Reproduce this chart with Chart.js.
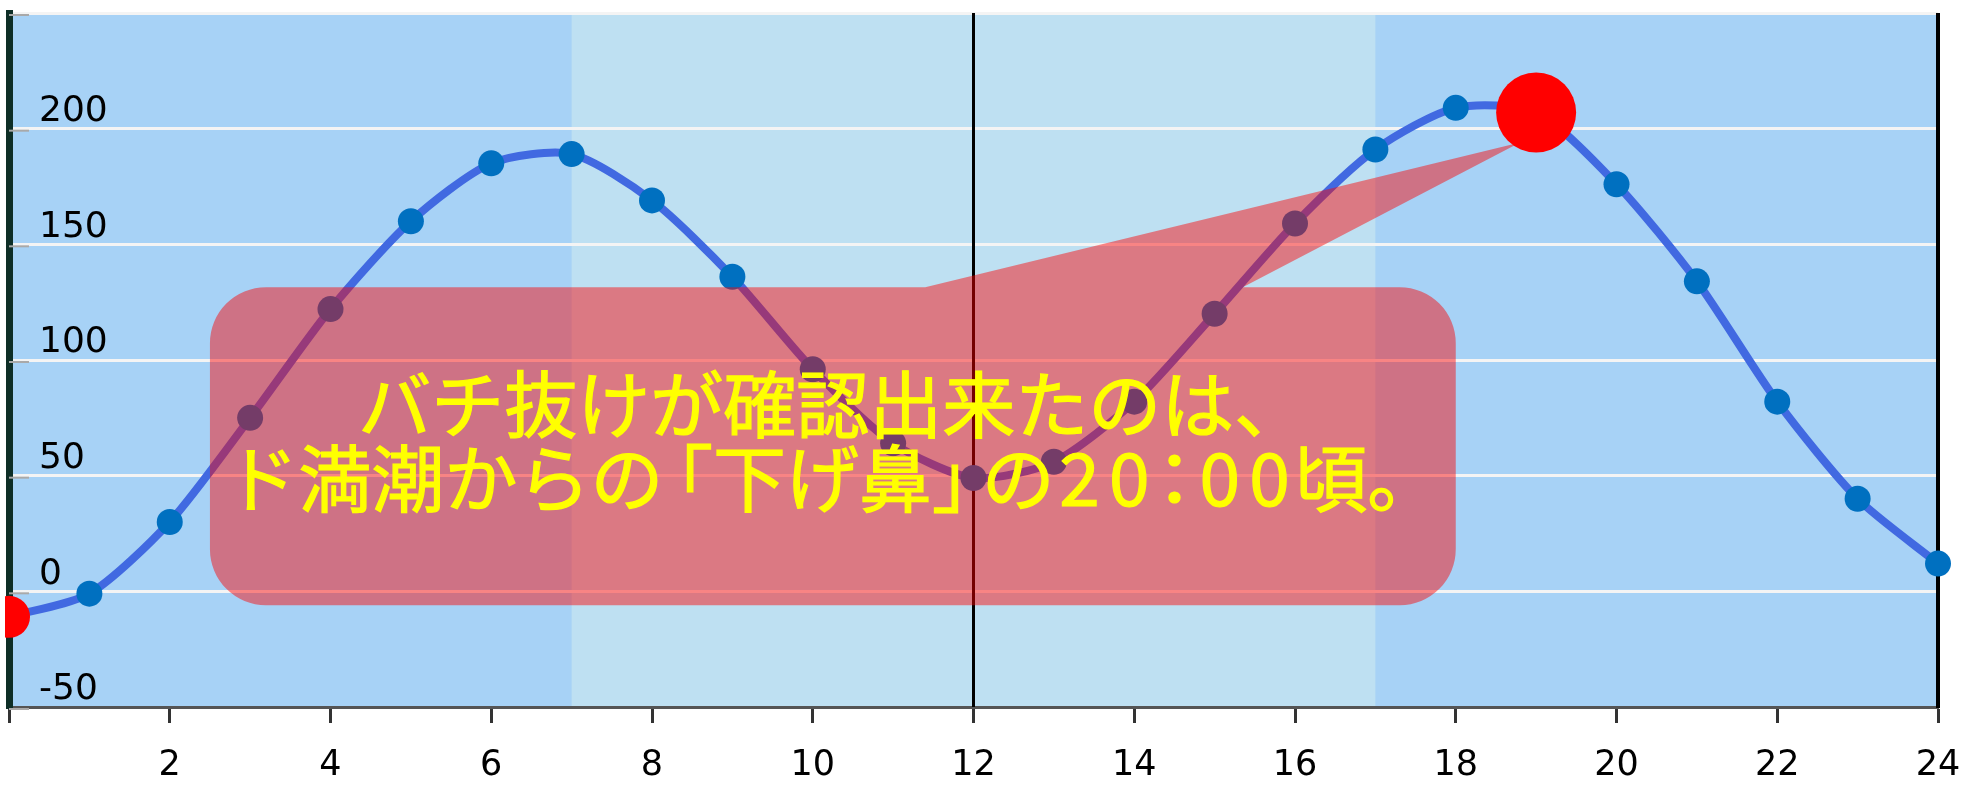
<!DOCTYPE html>
<html>
<head>
<meta charset="utf-8">
<script src="https://cdn.jsdelivr.net/npm/chart.js@4.4.1/dist/chart.umd.min.js"></script>
<style>
html,body{margin:0;padding:0;background:#ffffff;overflow:hidden;}
#wrap{width:1966px;height:792px;position:relative;}
</style>
</head>
<body>
<div id="wrap"><canvas id="c" width="1966" height="792"></canvas></div>
<script>
// ---- data ----
const hours = [0,1,2,3,4,5,6,7,8,9,10,11,12,13,14,15,16,17,18,19,20,21,22,23,24];
const tideLevels = [-11,-1,30,75,122,160,185,189,169,136,96,64,49,56,82,120,159,191,209,207,176,134,82,40,12];
const highlightHours = [0, 19];
const xTickLabels = ['', '2', '4', '6', '8', '10', '12', '14', '16', '18', '20', '22', '24'];
const yTickLabels = ['-50', '0', '50', '100', '150', '200', ''];
const calloutLines = ['バチ抜けが確認出来たのは、', 'ド満潮からの「下げ鼻」の20：00頃。'];

// ---- decoration settings (positions in data units) ----
const bandRange = [7, 17];
const markerHour = 12;
const calloutBox = {x0: 2.5, x1: 18, yTop: 131.5, yBottom: -6, radius: 56};
const calloutTail = {baseX0: 11.4, baseX1: 15.35, tipX: 18.8, tipY: 194};
const calloutTextY = [404, 478]; // pixel centers of text lines
const calloutFontSize = 73;

const points = hours.map((h, i) => ({x: h, y: tideLevels[i]}));
const highlightPoints = highlightHours.map(h => ({x: h, y: tideLevels[hours.indexOf(h)]}));

// lay out a line char by char with tight CJK punctuation (like palt)
function layoutLine(ctx, text, em) {
  const items = [];
  let cur = 0;
  for (const ch of text) {
    const w = ctx.measureText(ch).width;
    if (ch === '「') {
      cur -= 0.32 * em;
      items.push({ch, x: cur}); cur += w;
    } else if (ch === '」') {
      items.push({ch, x: cur}); cur += w - 0.32 * em;
    } else if (ch === '：') {
      cur -= 0.22 * em;
      items.push({ch, x: cur}); cur += w - 0.22 * em;
    } else if (/[0-9]/.test(ch)) {
      const cell = 0.68 * em;
      items.push({ch, x: cur + (cell - w) / 2}); cur += cell;
    } else {
      items.push({ch, x: cur}); cur += w;
    }
  }
  return {items, width: cur};
}

const decor = {
  id: 'decor',
  beforeDraw(chart) {
    const {ctx, chartArea: a, scales: {x}} = chart;
    ctx.save();
    ctx.fillStyle = '#A7D2F6';
    ctx.fillRect(a.left, a.top, a.right - a.left, a.bottom - a.top);
    const bx0 = x.getPixelForValue(bandRange[0]);
    const bx1 = x.getPixelForValue(bandRange[1]);
    ctx.fillStyle = '#BEE0F2';
    ctx.fillRect(bx0, a.top, bx1 - bx0, a.bottom - a.top);
    ctx.restore();
  },
  beforeDatasetsDraw(chart) {
    const {ctx, chartArea: a, scales: {x, y}} = chart;
    ctx.save();
    ctx.strokeStyle = '#a9a9a9';
    ctx.lineWidth = 2;
    y.ticks.forEach(t => {
      const py = y.getPixelForValue(t.value) + 2;
      ctx.beginPath();
      ctx.moveTo(a.left, py);
      ctx.lineTo(a.left + 20, py);
      ctx.stroke();
    });
    const mx = x.getPixelForValue(markerHour);
    ctx.strokeStyle = '#000000';
    ctx.lineWidth = 3;
    ctx.beginPath();
    ctx.moveTo(mx, a.top);
    ctx.lineTo(mx, a.bottom);
    ctx.stroke();
    ctx.lineWidth = 4;
    ctx.beginPath();
    ctx.moveTo(a.right, a.top);
    ctx.lineTo(a.right, a.bottom + 1);
    ctx.stroke();
    ctx.restore();
  },
  afterDatasetDraw(chart, args) {
    if (args.index !== 0) return;
    const {ctx, scales: {x, y}} = chart;
    const L = x.getPixelForValue(calloutBox.x0);
    const R = x.getPixelForValue(calloutBox.x1);
    const T = y.getPixelForValue(calloutBox.yTop);
    const B = y.getPixelForValue(calloutBox.yBottom);
    const r = calloutBox.radius;
    ctx.save();
    ctx.beginPath();
    ctx.moveTo(L + r, T);
    ctx.lineTo(R - r, T);
    ctx.arcTo(R, T, R, T + r, r);
    ctx.lineTo(R, B - r);
    ctx.arcTo(R, B, R - r, B, r);
    ctx.lineTo(L + r, B);
    ctx.arcTo(L, B, L, B - r, r);
    ctx.lineTo(L, T + r);
    ctx.arcTo(L, T, L + r, T, r);
    ctx.closePath();
    const tx = x.getPixelForValue(calloutTail.tipX);
    const ty = y.getPixelForValue(calloutTail.tipY);
    const ext = (bx) => {
      const k = 10 / (T - ty);
      return [bx + (bx - tx) * k, T + 10];
    };
    const p0 = ext(x.getPixelForValue(calloutTail.baseX0));
    const p1 = ext(x.getPixelForValue(calloutTail.baseX1));
    ctx.moveTo(p0[0], p0[1]);
    ctx.lineTo(tx, ty);
    ctx.lineTo(p1[0], p1[1]);
    ctx.closePath();
    ctx.fillStyle = 'rgba(252,0,0,0.46)';
    ctx.fill('nonzero');
    ctx.fillStyle = '#FFFF00';
    ctx.strokeStyle = '#FFFF00';
    ctx.lineWidth = 1.2;
    ctx.font = calloutFontSize + 'px "Noto Sans CJK JP"';
    ctx.textAlign = 'left';
    ctx.textBaseline = 'middle';
    const cx = (L + R) / 2;
    calloutLines.forEach((s, i) => {
      const lay = layoutLine(ctx, s, calloutFontSize);
      const x0 = cx - lay.width / 2;
      lay.items.forEach(it => {
        ctx.fillText(it.ch, x0 + it.x, calloutTextY[i]);
        ctx.strokeText(it.ch, x0 + it.x, calloutTextY[i]);
      });
    });
    ctx.restore();
  }
};

new Chart(document.getElementById('c'), {
  type: 'line',
  data: {
    datasets: [
      {
        label: 'tide',
        data: points,
        borderColor: '#4169E1',
        borderWidth: 8,
        tension: 0.25,
        pointRadius: 13,
        pointHoverRadius: 13,
        pointBackgroundColor: '#0070C0',
        pointBorderWidth: 0,
        fill: false,
        order: 2,
        clip: {left: 4, top: 40, right: 40, bottom: 40}
      },
      {
        label: 'highlight',
        data: highlightPoints,
        showLine: false,
        pointRadius: [21, 40],
        pointHoverRadius: [21, 40],
        pointBackgroundColor: '#FF0000',
        pointBorderWidth: 0,
        order: 1,
        clip: {left: 4, top: 40, right: 40, bottom: 40}
      }
    ]
  },
  options: {
    responsive: false,
    animation: false,
    devicePixelRatio: 1,
    events: [],
    layout: {autoPadding: false, padding: {left: 9, right: 28, top: 13, bottom: 0}},
    plugins: {legend: {display: false}, tooltip: {enabled: false}},
    scales: {
      x: {
        type: 'linear',
        min: 0, max: 24,
        afterBuildTicks: s => { s.ticks = xTickLabels.map((_, i) => ({value: i * 2})); },
        afterFit: s => { s.paddingLeft = 0; s.paddingRight = 0; s.height = 85; },
        ticks: {
          callback: (v, i) => xTickLabels[i],
          font: {family: 'DejaVu Sans', size: 35},
          color: '#000000',
          padding: 22,
          maxRotation: 0,
          autoSkip: false
        },
        grid: {drawOnChartArea: false, drawTicks: true, tickLength: 16, tickWidth: 3, tickColor: '#333333'},
        border: {display: true, color: '#555555', width: 3}
      },
      y: {
        type: 'linear',
        min: -50, max: 250,
        afterBuildTicks: s => { s.ticks = yTickLabels.map((_, i) => ({value: -50 + i * 50})); },
        afterFit: s => { s.width = 0; s.paddingTop = 0; s.paddingBottom = 0; },
        ticks: {
          callback: (v, i) => yTickLabels[i],
          mirror: true,
          padding: 30,
          labelOffset: -17,
          font: {family: 'DejaVu Sans', size: 36},
          color: '#000000'
        },
        grid: {color: '#F4F4F4', lineWidth: 3, drawTicks: false},
        border: {display: true, color: '#0E2E26', width: 7}
      }
    }
  },
  plugins: [decor]
});
</script>
</body>
</html>
